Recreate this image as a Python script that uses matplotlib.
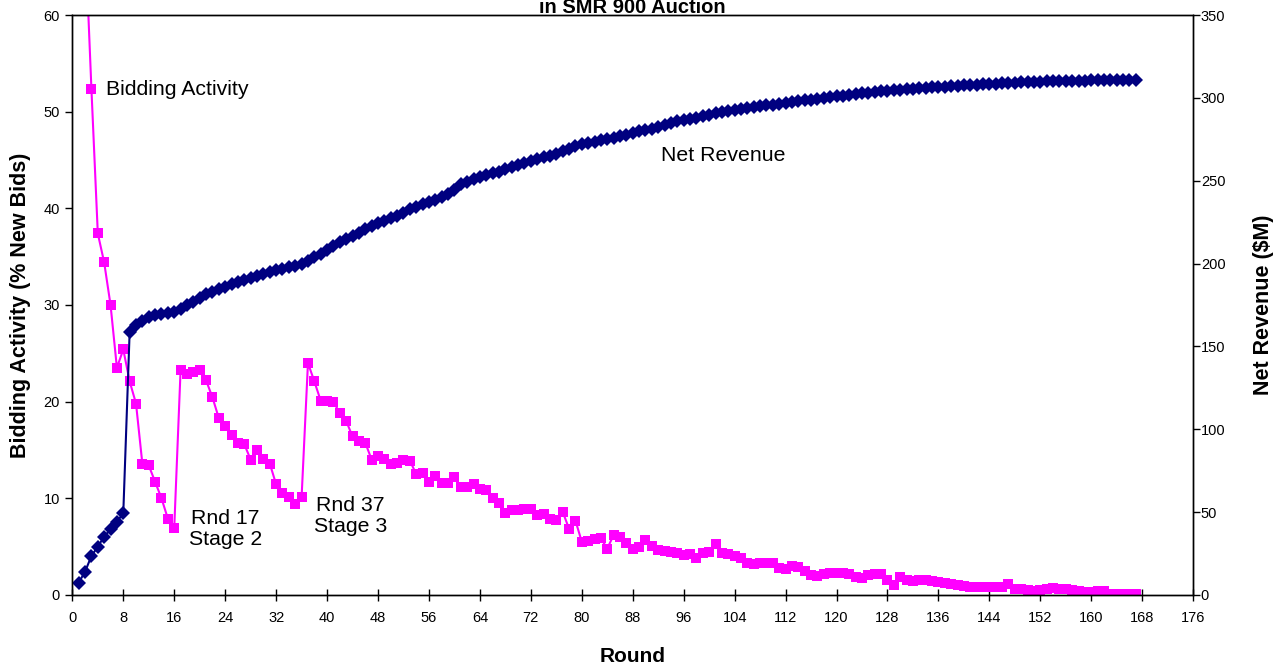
import numpy as np
import matplotlib
matplotlib.use("Agg")
import matplotlib.pyplot as plt

plt.rcParams['font.family'] = ['Liberation Sans', 'DejaVu Sans']

# Round numbers
rounds = np.arange(1, 168)

# Bidding activity, % new bids per round (left axis)
bidding_activity = [
    100.0, 68.3, 52.3, 37.4, 34.4, 30.0, 23.5, 25.4, 22.1, 19.8,
    13.55, 13.4, 11.7, 10.0, 7.9, 6.9, 23.3, 22.9, 23.1, 23.3,
    22.2, 20.45, 18.3, 17.5, 16.6, 15.7, 15.6, 14.0, 15.0, 14.1,
    13.6, 11.45, 10.6, 10.1, 9.4, 10.1, 24.0, 22.1, 20.1, 20.1,
    20.0, 18.8, 18.0, 16.4, 15.9, 15.75, 14.0, 14.4, 14.1, 13.55,
    13.7, 14.0, 13.9, 12.5, 12.6, 11.7, 12.3, 11.6, 11.6, 12.2,
    11.2, 11.2, 11.5, 11.0, 10.9, 10.0, 9.55, 8.5, 8.8, 8.8,
    8.9, 8.9, 8.3, 8.4, 7.9, 7.8, 8.6, 6.85, 7.7, 5.5,
    5.6, 5.75, 5.85, 4.8, 6.2, 6.0, 5.4, 4.8, 5.0, 5.7,
    5.1, 4.65, 4.55, 4.4, 4.3, 4.15, 4.2, 3.85, 4.3, 4.4,
    5.3, 4.3, 4.25, 4.0, 3.8, 3.35, 3.2, 3.3, 3.35, 3.3,
    2.75, 2.65, 3.0, 2.9, 2.5, 2.1, 1.95, 2.15, 2.3, 2.25,
    2.25, 2.15, 1.9, 1.8, 2.05, 2.15, 2.2, 1.55, 1.05, 1.85,
    1.55, 1.4, 1.5, 1.5, 1.4, 1.3, 1.2, 1.15, 1.05, 0.95,
    0.85, 0.8, 0.8, 0.85, 0.8, 0.8, 1.1, 0.65, 0.6, 0.52,
    0.45, 0.52, 0.65, 0.75, 0.65, 0.6, 0.52, 0.45, 0.35, 0.35,
    0.45, 0.45, 0.15, 0.15, 0.15, 0.15, 0.15,
]

# Net revenue in $M per round (right axis)
net_revenue = [
    7.4, 14.1, 23.5, 29.2, 35.2, 39.6, 44.2, 49.3, 158.9, 163.0,
    165.5, 167.6, 169.0, 169.6, 170.4, 171.0, 172.8, 175.0, 177.0, 179.4,
    181.5, 183.0, 184.5, 186.0, 187.5, 188.7, 190.0, 191.3, 192.5, 193.7,
    195.0, 196.0, 197.0, 197.8, 198.5, 199.5, 201.7, 203.8, 206.0, 208.0,
    210.6, 213.0, 215.0, 216.7, 218.6, 220.7, 222.7, 224.3, 225.9, 227.3,
    228.7, 230.7, 232.8, 234.3, 235.8, 237.2, 238.4, 240.0, 241.8, 244.4,
    247.9, 249.4, 250.9, 252.4, 253.7, 254.5, 255.5, 256.9, 258.5, 259.7,
    260.9, 262.1, 263.1, 264.1, 265.1, 266.1, 268.0, 269.4, 270.7, 271.9,
    272.7, 273.6, 274.5, 275.3, 276.0, 276.9, 277.8, 278.8, 279.7, 280.6,
    281.5, 282.6, 283.7, 284.8, 285.8, 286.7, 287.4, 288.1, 289.0, 289.9,
    290.8, 291.5, 292.25, 292.8, 293.35, 293.9, 294.25, 294.8, 295.4, 295.95,
    296.55, 297.1, 297.5, 298.0, 298.5, 299.0, 299.5, 300.0, 300.5, 301.0,
    301.4, 301.9, 302.3, 302.7, 303.1, 303.5, 303.9, 304.3, 304.6, 304.9,
    305.2, 305.5, 305.7, 306.0, 306.3, 306.6, 306.8, 307.0, 307.2, 307.5,
    307.7, 307.9, 308.2, 308.4, 308.6, 308.8, 309.0, 309.2, 309.4, 309.5,
    309.6, 309.8, 309.9, 310.0, 310.1, 310.2, 310.3, 310.3, 310.4, 310.5,
    310.5, 310.6, 310.6, 310.7, 310.7, 310.8, 310.8,
]

x_ticks = list(range(0, 177, 8))
left_ticks = list(range(0, 61, 10))
right_ticks = list(range(0, 351, 50))

MAGENTA = "#FF00FF"
NAVY = "#000080"

fig = plt.figure(figsize=(12.78, 6.67), dpi=100)
ax = fig.add_axes([0.0566, 0.108, 0.877, 0.8695])
ax2 = ax.twinx()

ax.plot(rounds, bidding_activity, color=MAGENTA, lw=1.5, marker='s',
        markersize=7.8, markeredgewidth=0, clip_on=True)
ax2.plot(rounds, net_revenue, color=NAVY, lw=1.5, marker='D',
         markersize=6.8, markeredgewidth=0, clip_on=True)

ax.set_xlim(0, 176)
ax.set_ylim(0, 60)
ax2.set_ylim(0, 350)
ax.set_xticks(x_ticks)
ax.set_yticks(left_ticks)
ax2.set_yticks(right_ticks)

for a in (ax, ax2):
    for s in a.spines.values():
        s.set_linewidth(1.0)
        s.set_color("black")
ax.tick_params(axis='x', direction='inout', length=9, width=1, labelsize=10.5, pad=7)
ax.tick_params(axis='y', direction='out', length=5, width=1, labelsize=10.5, pad=4)
ax2.tick_params(axis='y', direction='out', length=5, width=1, labelsize=10.5, pad=0.5)

ax.set_xlabel("Round", fontsize=15, fontweight='bold', labelpad=16)
ax.set_ylabel("Bidding Activity (% New Bids)", fontsize=15.5, fontweight='bold', labelpad=9)
ax2.set_ylabel("Net Revenue ($M)", fontsize=15.5, fontweight='bold', labelpad=20)

fig.text(0.4945, 0.9805, "in SMR 900 Auction", ha='center', va='baseline',
         fontsize=14.5, fontweight='bold')

ax.text(5.25, 52.3, "Bidding Activity", ha='left', va='center', fontsize=15.3)
ax.text(102.2, 45.5, "Net Revenue", ha='center', va='center', fontsize=15.3)
ax.text(24.0, 6.85, "Rnd 17\nStage 2", ha='center', va='center', fontsize=15.3,
        linespacing=1.15)
ax.text(43.7, 8.14, "Rnd 37\nStage 3", ha='center', va='center', fontsize=15.3,
        linespacing=1.15)

fig.savefig("out.png", dpi=100)
